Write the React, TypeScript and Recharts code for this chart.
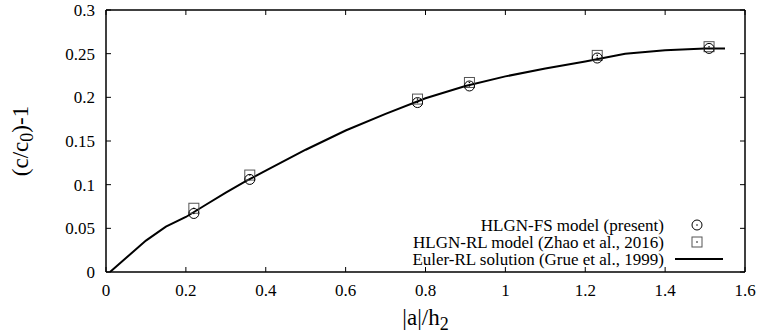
import React from "react";
import {
  ComposedChart,
  XAxis,
  YAxis,
  Line,
  Scatter,
  Legend,
} from "recharts";

const xTicks = [0, 0.2, 0.4, 0.6, 0.8, 1, 1.2, 1.4, 1.6];
const yTicks = [0, 0.05, 0.1, 0.15, 0.2, 0.25, 0.3];

const seriesNames = [
  "HLGN-FS model (present)",
  "HLGN-RL model (Zhao et al., 2016)",
  "Euler-RL solution (Grue et al., 1999)",
];

// measured amplitudes |a|/h2
const pointX = [0.22, 0.36, 0.78, 0.91, 1.23, 1.51];
const fsValues = [0.067, 0.106, 0.194, 0.213, 0.245, 0.256];
const rlValues = [0.073, 0.111, 0.198, 0.217, 0.248, 0.258];

const eulerX = [0.01, 0.05, 0.1, 0.15, 0.2, 0.25, 0.3, 0.35, 0.4, 0.5, 0.6, 0.7, 0.8, 0.9, 1.0, 1.1, 1.2, 1.3, 1.4, 1.5, 1.55];
const eulerY = [0, 0.016, 0.036, 0.052, 0.063, 0.077, 0.091, 0.104, 0.116, 0.14, 0.162, 0.181, 0.199, 0.213, 0.224, 0.233, 0.241, 0.25, 0.254, 0.256, 0.256];

const fsData = pointX.map((x, i) => ({ x, y: fsValues[i] }));
const rlData = pointX.map((x, i) => ({ x, y: rlValues[i] }));
const eulerData = eulerX.map((x, i) => ({ x, y: eulerY[i] }));

const FONT = "'Liberation Serif', 'Times New Roman', serif";
const TICK = 5;
const tickText = { fontFamily: FONT, fontSize: 17 };

const fmt = (v: number) => String(+Number(v).toFixed(2));

const BottomTick = (props: any) => {
  const { x, y, payload } = props;
  return (
    <g>
      <line x1={x} x2={x} y1={y} y2={y - TICK} stroke="#000" />
      <text x={x} y={y + 24} textAnchor="middle" style={tickText} fill="#000">
        {fmt(payload.value)}
      </text>
    </g>
  );
};

const LeftTick = (props: any) => {
  const { x, y, payload } = props;
  return (
    <g>
      <line x1={x} x2={x + TICK} y1={y} y2={y} stroke="#000" />
      <text x={x - 11} y={y + 6} textAnchor="end" style={tickText} fill="#000">
        {fmt(payload.value)}
      </text>
    </g>
  );
};

const TopTick = (props: any) => {
  const { x, y } = props;
  return <line x1={x} x2={x} y1={y} y2={y + TICK} stroke="#000" />;
};

const RightTick = (props: any) => {
  const { x, y } = props;
  return <line x1={x} x2={x - TICK} y1={y} y2={y} stroke="#000" />;
};

const CircleMark = (props: any) => {
  const { cx, cy } = props;
  return (
    <g>
      <circle cx={cx} cy={cy} r={5} fill="none" stroke="#000" strokeWidth={1} />
      <circle cx={cx} cy={cy} r={0.8} fill="#000" />
    </g>
  );
};

const SquareMark = (props: any) => {
  const { cx, cy } = props;
  return (
    <g>
      <rect x={cx - 5} y={cy - 5} width={10} height={10} fill="none" stroke="#555" strokeWidth={1} />
      <circle cx={cx} cy={cy} r={0.8} fill="#000" />
    </g>
  );
};

const LegendBox = () => {
  const rowTop = [216.5, 233.5, 250.5];
  return (
    <div style={{ position: "relative", width: 760, height: 336, fontFamily: FONT, fontSize: 17 }}>
      {seriesNames.map((name, i) => (
        <div key={name} style={{ position: "absolute", top: rowTop[i], left: 0, width: 760, height: 17 }}>
          <span style={{ position: "absolute", right: 760 - 664, top: 0, lineHeight: "17px", whiteSpace: "nowrap" }}>
            {name}
          </span>
          <svg style={{ position: "absolute", left: 672, top: -1.5 }} width={56} height={20}>
            {i === 0 && (
              <g>
                <circle cx={25} cy={10} r={5} fill="none" stroke="#000" />
                <circle cx={25} cy={10} r={0.8} fill="#000" />
              </g>
            )}
            {i === 1 && (
              <g>
                <rect x={20} y={5} width={10} height={10} fill="none" stroke="#555" />
                <circle cx={25} cy={10} r={0.8} fill="#000" />
              </g>
            )}
            {i === 2 && <line x1={3} x2={51} y1={10} y2={10} stroke="#000" strokeWidth={2} />}
          </svg>
        </div>
      ))}
    </div>
  );
};

const XTitle = (p: any) => {
  const vb = p.viewBox;
  return (
    <text x={vb.x + vb.width / 2} y={vb.y + 53} textAnchor="middle" style={{ fontFamily: FONT, fontSize: 23 }} fill="#000">
      |a|/h
      <tspan style={{ fontSize: 18 }} dy={5}>2</tspan>
    </text>
  );
};

const YTitle = (p: any) => {
  const vb = p.viewBox;
  const cx = 28;
  const cy = vb.y + vb.height / 2;
  return (
    <text
      x={cx}
      y={cy}
      textAnchor="middle"
      transform={`rotate(-90 ${cx} ${cy})`}
      style={{ fontFamily: FONT, fontSize: 23 }}
      fill="#000"
    >
      (c/c
      <tspan style={{ fontSize: 18 }} dy={5}>0</tspan>
      <tspan dy={-5}>)-1</tspan>
    </text>
  );
};

export default function App() {
  return (
    <div style={{ position: "absolute", left: 0, top: 0, width: 760, height: 336, background: "#fff" }}>
      <ComposedChart width={760} height={336} margin={{ top: 0, right: 5, bottom: 4, left: 6 }}>
        <XAxis
          xAxisId="b"
          type="number"
          dataKey="x"
          domain={[0, 1.6]}
          ticks={xTicks}
          height={60}
          tickSize={0}
          tickMargin={0}
          tickLine={false}
          axisLine={{ stroke: "#000", strokeWidth: 1.5 }}
          tick={<BottomTick />}
          interval={0}
          allowDataOverflow
          label={<XTitle />}
        />
        <XAxis
          xAxisId="t"
          orientation="top"
          type="number"
          dataKey="x"
          domain={[0, 1.6]}
          ticks={xTicks}
          height={10}
          tickSize={0}
          tickMargin={0}
          tickLine={false}
          axisLine={{ stroke: "#000", strokeWidth: 1.5 }}
          tick={<TopTick />}
          interval={0}
          allowDataOverflow
        />
        <YAxis
          yAxisId="l"
          type="number"
          domain={[0, 0.3]}
          ticks={yTicks}
          width={100}
          tickSize={0}
          tickMargin={0}
          tickLine={false}
          axisLine={{ stroke: "#000", strokeWidth: 1.5 }}
          tick={<LeftTick />}
          interval={0}
          allowDataOverflow
          label={<YTitle />}
        />
        <YAxis
          yAxisId="r"
          orientation="right"
          type="number"
          domain={[0, 0.3]}
          ticks={yTicks}
          width={10}
          tickSize={0}
          tickMargin={0}
          tickLine={false}
          axisLine={{ stroke: "#000", strokeWidth: 1.5 }}
          tick={<RightTick />}
          interval={0}
          allowDataOverflow
        />
        <Line
          xAxisId="b"
          yAxisId="l"
          data={eulerData}
          dataKey="y"
          name={seriesNames[2]}
          type="linear"
          stroke="#000"
          strokeWidth={2}
          dot={false}
          activeDot={false}
          isAnimationActive={false}
        />
        <Scatter
          xAxisId="b"
          yAxisId="l"
          data={rlData}
          dataKey="y"
          name={seriesNames[1]}
          shape={<SquareMark />}
          isAnimationActive={false}
        />
        <Scatter
          xAxisId="b"
          yAxisId="l"
          data={fsData}
          dataKey="y"
          name={seriesNames[0]}
          shape={<CircleMark />}
          isAnimationActive={false}
        />
        <Legend
          layout="horizontal"
          verticalAlign="middle"
          align="center"
          wrapperStyle={{ left: 0, top: 0, width: 760, height: 336, pointerEvents: "none" }}
          content={() => <LegendBox />}
        />
      </ComposedChart>
    </div>
  );
}
